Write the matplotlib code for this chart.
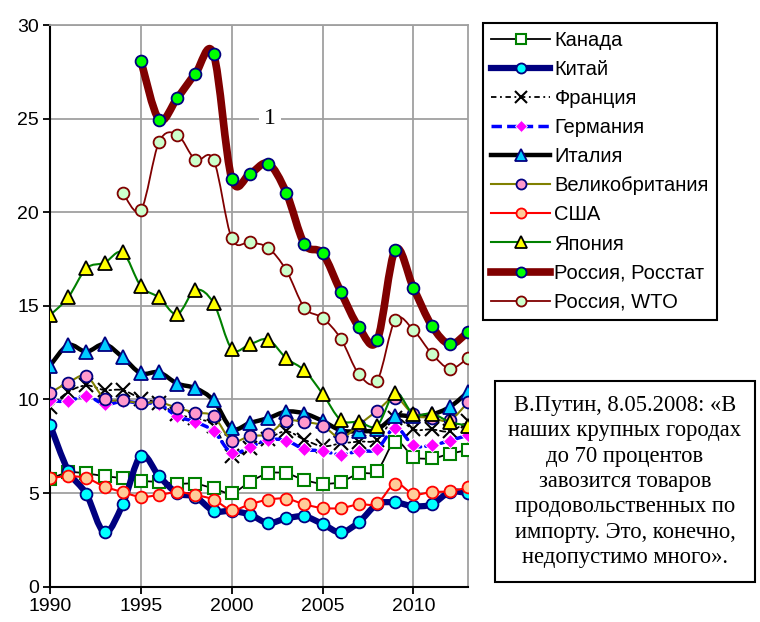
import numpy as np
import matplotlib
matplotlib.use("Agg")
import matplotlib.pyplot as plt
from matplotlib.path import Path
from matplotlib.patches import PathPatch
from matplotlib.lines import Line2D

plt.rcParams['font.family'] = ['Liberation Sans', 'DejaVu Sans']

# years
years = np.arange(1990, 2014)
years_wto = np.arange(1994, 2014)
years_rs = np.arange(1995, 2014)

# import shares, %
canada = [5.75, 6.1, 6.05, 5.9, 5.8, 5.65, 5.6, 5.5, 5.5, 5.25, 5.0, 5.6, 6.05, 6.05,
          5.7, 5.5, 5.6, 6.05, 6.2, 7.75, 6.95, 6.85, 7.1, 7.3]
china = [8.65, 6.2, 4.95, 2.9, 4.4, 7.0, 5.9, 5.0, 4.8, 4.05, 4.05, 3.85, 3.4, 3.65,
         3.75, 3.35, 2.9, 3.45, 4.4, 4.5, 4.3, 4.4, 5.05, 5.0]
france = [9.6, 10.4, 10.75, 10.5, 10.5, 10.05, 9.8, 9.2, 9.0, 8.6, 7.0, 7.4, 7.9, 8.3,
          7.85, 7.5, 7.65, 7.75, 7.85, 9.0, 8.4, 8.4, 8.3, 8.85]
germany = [9.95, 9.9, 10.2, 9.75, 9.9, 9.8, 9.75, 9.1, 8.8, 8.3, 7.15, 7.45, 7.85, 7.8,
           7.35, 7.25, 7.05, 7.25, 7.35, 8.5, 7.55, 7.55, 7.8, 8.1]
italy = [11.8, 12.9, 12.55, 12.95, 12.25, 11.4, 11.45, 10.85, 10.6, 9.95, 8.45, 8.75, 9.0, 9.35,
         9.25, 8.85, 8.35, 8.3, 8.4, 9.1, 9.1, 9.2, 9.6, 10.4]
uk = [10.35, 10.9, 11.25, 10.05, 9.95, 9.8, 9.85, 9.55, 9.3, 9.1, 7.8, 8.05, 8.15, 8.85,
      8.8, 8.6, 7.95, 8.65, 9.4, 10.1, 9.2, 9.0, 8.9, 9.85]
usa = [5.8, 5.9, 5.8, 5.35, 5.05, 4.8, 4.9, 5.05, 4.9, 4.65, 4.1, 4.4, 4.65, 4.7,
       4.4, 4.2, 4.2, 4.4, 4.45, 5.5, 4.95, 5.05, 5.1, 5.3]
japan = [14.5, 15.45, 17.0, 17.3, 17.85, 16.05, 15.45, 14.55, 15.85, 15.15, 12.7, 12.95, 13.2, 12.2,
         11.55, 10.3, 8.9, 8.8, 8.6, 10.35, 9.2, 9.25, 8.8, 8.6]
russia_rs = [28.1, 24.95, 26.1, 27.4, 28.45, 21.8, 22.05, 22.6, 21.05, 18.3, 17.8, 15.75,
             13.85, 13.15, 18.0, 15.95, 13.95, 12.95, 13.6]
russia_wto = [21.05, 20.1, 23.75, 24.15, 22.8, 22.8, 18.6, 18.4, 18.1, 16.9, 14.9, 14.35,
              13.25, 11.35, 11.0, 14.25, 13.7, 12.45, 11.65, 12.2]

labels = ['Канада', 'Китай', 'Франция', 'Германия', 'Италия', 'Великобритания',
          'США', 'Япония', 'Россия, Росстат', 'Россия, WTO']

# line / marker style per series
styles = [
    dict(color='black', lw=1.3, ls='-', marker='s', mfc='white', mec='#008000', ms=9, mew=1.5),
    dict(color='#000080', lw=4.5, ls='-', marker='o', mfc='#00FFFF', mec='#000080', ms=8.5, mew=1.3),
    dict(color='black', lw=1.3, ls=(0, (3, 2, 1, 2)), marker='x', mfc='none', mec='black', ms=9.5, mew=1.5),
    dict(color='#0000FF', lw=2.5, ls=(0, (3, 1.5)), marker='D', mfc='#FF00FF', mec='white', ms=7, mew=0.6),
    dict(color='black', lw=3.2, ls='-', marker='^', mfc='#00CCFF', mec='#000080', ms=10, mew=1.3),
    dict(color='#808000', lw=1.5, ls='-', marker='o', mfc='#FF99CC', mec='#000080', ms=8.5, mew=1.3),
    dict(color='#FF0000', lw=1.5, ls='-', marker='o', mfc='#FFCC99', mec='#FF0000', ms=8.5, mew=1.3),
    dict(color='#008000', lw=1.5, ls='-', marker='^', mfc='#FFFF00', mec='black', ms=10, mew=1.3),
    dict(color='#800000', lw=5.5, ls='-', marker='o', mfc='#00FF00', mec='#000080', ms=8.5, mew=1.3),
    dict(color='#800000', lw=1.3, ls='-', marker='o', mfc='#CCFFCC', mec='#800000', ms=8.5, mew=1.3),
]

series = [(years, canada), (years, china), (years, france), (years, germany), (years, italy),
          (years, uk), (years, usa), (years, japan), (years_rs, russia_rs), (years_wto, russia_wto)]


def smooth_path(x, y):
    """Bezier path through the points, like Excel's smoothed line"""
    x = np.asarray(x, float)
    y = np.asarray(y, float)
    pts = np.column_stack([x, y])
    n = len(pts)
    verts = [pts[0]]
    codes = [Path.MOVETO]
    for i in range(n - 1):
        p0 = pts[i - 1] if i > 0 else pts[i]
        p1 = pts[i]
        p2 = pts[i + 1]
        p3 = pts[i + 2] if i + 2 < n else pts[i + 1]
        c1 = p1 + (p2 - p0) / 6.0
        c2 = p2 - (p3 - p1) / 6.0
        verts += [c1, c2, p2]
        codes += [Path.CURVE4] * 3
    return Path(verts, codes)


fig = plt.figure(figsize=(7.6, 6.22), dpi=100)
ax = fig.add_axes([50 / 760, 1 - 586.7 / 622, 418 / 760, 561.7 / 622])

handles = []
for k, ((xs, ys), st) in enumerate(zip(series, styles)):
    z = 3 + k
    patch = PathPatch(smooth_path(xs, ys), fill=False, edgecolor=st['color'],
                      lw=st['lw'], ls=st['ls'], capstyle='round', joinstyle='round', zorder=z)
    ax.add_patch(patch)
    ax.plot(xs, ys, ls='none', marker=st['marker'], mfc=st['mfc'], mec=st['mec'],
            ms=st['ms'], mew=st['mew'], zorder=z + 0.5)
    handles.append(Line2D([], [], color=st['color'], lw=st['lw'], ls=st['ls'],
                          marker=st['marker'], mfc=st['mfc'], mec=st['mec'],
                          ms=st['ms'] * 0.85, mew=st['mew']))

ax.set_xlim(1990, 2013)
ax.set_ylim(0, 30)
ax.set_xticks([1990, 1995, 2000, 2005, 2010])
ax.set_yticks([0, 5, 10, 15, 20, 25, 30])
ax.grid(True, color='#A0A0A0', lw=1.3)
ax.set_axisbelow(True)
for s in ['top', 'right']:
    ax.spines[s].set_color('#A0A0A0')
    ax.spines[s].set_linewidth(1.3)
for s in ['left', 'bottom']:
    ax.spines[s].set_color('black')
    ax.spines[s].set_linewidth(1.5)
ax.tick_params(axis='both', labelsize=14, direction='out', length=5, width=1.3, pad=3)

# curve number label
ax.text(2002.1, 25, '1', family='Liberation Serif', fontsize=17, ha='center', va='center',
        bbox=dict(boxstyle='square,pad=0.2', fc='white', ec='none'), zorder=20)

leg = fig.legend(handles, labels, loc='upper left', bbox_to_anchor=(483 / 760, 1 - 23 / 622),
                 bbox_transform=fig.transFigure, fontsize=14.5, numpoints=1, handlelength=2.95,
                 handletextpad=0.2, labelspacing=0.5, borderpad=0.4, borderaxespad=0,
                 fancybox=False, framealpha=1, edgecolor='black')
leg.get_frame().set_linewidth(1.5)

fig.text(625 / 760, 1 - 481.5 / 622,
         'В.Путин, 8.05.2008: «В\nнаших крупных городах\nдо 70 процентов\nзавозится товаров\n'
         'продовольственных по\nимпорту. Это, конечно,\nнедопустимо много».',
         family='Liberation Serif', fontsize=16.3, ha='center', va='center', linespacing=1.28,
         bbox=dict(boxstyle='square,pad=0.6', fc='white', ec='black', lw=1.5))

fig.savefig('out.png', dpi=100)
